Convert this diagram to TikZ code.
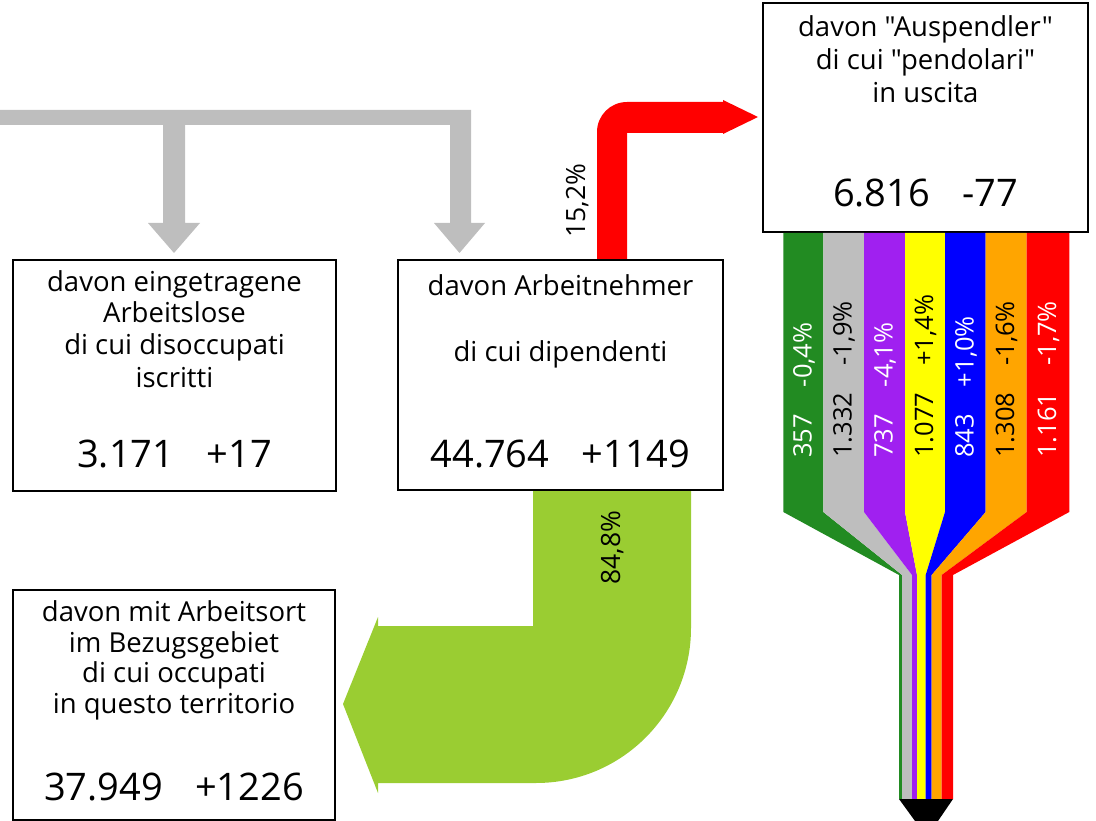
\documentclass[tikz,border=0pt]{standalone}
\usepackage{fontspec}
\setmainfont{Open Sans}[Ligatures=TeXOff]
\definecolor{cgreen}{HTML}{228B22}
\definecolor{cgrey}{HTML}{BEBEBE}
\definecolor{cpurple}{HTML}{A020F0}
\definecolor{cyellow}{HTML}{FFFF00}
\definecolor{cblue}{HTML}{0000FF}
\definecolor{corange}{HTML}{FFA500}
\definecolor{cred}{HTML}{FF0000}
\definecolor{clgreen}{HTML}{9ACD32}
\newcommand\bgap{\hspace{27pt}}
\begin{document}
\begin{tikzpicture}[x=1pt,y=-1pt,
  box/.style={draw=black,line width=2pt,fill=white,inner sep=0pt},
  txt/.style={font=\fontsize{27.5}{32}\selectfont,anchor=base,inner sep=0pt},
  num/.style={font=\fontsize{38}{44}\selectfont,anchor=base,inner sep=0pt},
  vlab/.style={font=\fontsize{26.5}{30}\selectfont,anchor=base west,rotate=90,inner sep=0pt},
  blab/.style={font=\fontsize{25.5}{30}\selectfont,anchor=base west,rotate=90,inner sep=0pt}]
\useasboundingbox (0,0) rectangle (1096,821);
% boxes
\draw[box] (13,260) rectangle (336,491);
\draw[box] (398,260) rectangle (723,490);
\draw[box] (13,590) rectangle (335,820);
\draw[box] (763,3) rectangle (1088,232);
% grey arrows
\fill[cgrey] (0,110) -- (471,110) -- (471,223) -- (485,223) -- (459.5,253) -- (434,223) -- (450,223) -- (450,125)
  -- (185,125) -- (185,223) -- (200,223) -- (174,253) -- (148,223) -- (163,223) -- (163,125) -- (0,125) -- cycle;
% red arrow
\fill[cred] (597,261) -- (597,132) .. controls (597,115.4) and (610.4,102) .. (627,102) -- (723,102) -- (723,100)
  -- (758,117) -- (723,134) -- (723,133) -- (627,133) -- (627,261) -- cycle;
% green arrow
\fill[clgreen] (691,491) -- (691,628) .. controls (691,713.6) and (621.6,783) .. (536,783) -- (378,783) -- (378,793)
  -- (343,704) -- (378,617) -- (378,626) -- (533,626) -- (533,491) -- cycle;
% redraw box borders over arrows
\draw[black,line width=2pt] (398,260) -- (723,260);
\draw[black,line width=2pt] (398,490) -- (723,490);
% bands
\fill[cgreen]  (783.3,233) -- (823.3,233) -- (823.3,512) -- (902,575) -- (902,799) -- (899,799) -- (899,575) -- (783.3,512) -- cycle;
\fill[cgrey]   (823.3,233) -- (864,233) -- (864,512) -- (912,575) -- (912,799) -- (902,799) -- (902,575) -- (823.3,512) -- cycle;
\fill[cpurple] (864,233) -- (905,233) -- (905,512) -- (917,575) -- (917,799) -- (912,799) -- (912,575) -- (864,512) -- cycle;
\fill[cyellow] (905,233) -- (945,233) -- (945,512) -- (925.7,575) -- (925.7,799) -- (917,799) -- (917,575) -- (905,512) -- cycle;
\fill[cblue]   (945,233) -- (985.7,233) -- (985.7,512) -- (931.7,575) -- (931.7,799) -- (925.7,799) -- (925.7,575) -- (945,512) -- cycle;
\fill[corange] (985.7,233) -- (1026.7,233) -- (1026.7,512) -- (941.7,575) -- (941.7,799) -- (931.7,799) -- (931.7,575) -- (985.7,512) -- cycle;
\fill[cred]    (1026.7,233) -- (1069.3,233) -- (1069.3,512) -- (953,575) -- (953,799) -- (941.7,799) -- (941.7,575) -- (1026.7,512) -- cycle;
\fill[black] (899,799) -- (953,799) -- (938,821) -- (915,821) -- cycle;
% box texts
\node[txt] (t1a) at (174.5,292) {davon eingetragene};
\node[txt] (t1b) at (174.5,323) {Arbeitslose};
\node[txt] (t1c) at (174.5,355) {di cui disoccupati};
\node[txt] (t1d) at (174.5,387) {iscritti};
\node[num] (n1) at (174.5,467) {3.171\hspace{0.85em}+17};
\node[txt] (t2a) at (560.5,296) {davon Arbeitnehmer};
\node[txt] (t2b) at (560.5,361) {di cui dipendenti};
\node[num] (n2) at (560.5,467) {44.764\hspace{0.85em}+1149};
\node[txt] (t3a) at (174,621) {davon mit Arbeitsort};
\node[txt] (t3b) at (174,652) {im Bezugsgebiet};
\node[txt] (t3c) at (174,682) {di cui occupati};
\node[txt] (t3d) at (174,713) {in questo territorio};
\node[num] (n3) at (174,800) {37.949\hspace{0.85em}+1226};
\node[txt] (t4a) at (925.5,37) {davon "Auspendler"};
\node[txt] (t4b) at (925.5,70) {di cui "pendolari"};
\node[txt] (t4c) at (925.5,103) {in uscita};
\node[num] (n4) at (925.5,207) {6.816\hspace{0.85em}-77};
% arrow labels
\node[vlab] (p1) at (585,238) {15,2\%};
\node[vlab] (p2) at (620,585) {84,8\%};
% band labels
\node[blab,white] (g1) at (811.5,458) {357\bgap-0,4\%};
\node[blab,black] (h1) at (851.5,458) {1.332\bgap-1,9\%};
\node[blab,white] (i1) at (892.5,458) {737\bgap-4,1\%};
\node[blab,black] (j1) at (933,458) {1.077\bgap+1,4\%};
\node[blab,white] (k1) at (973.5,458) {843\bgap+1,0\%};
\node[blab,black] (l1) at (1014,458) {1.308\bgap-1,6\%};
\node[blab,white] (m1) at (1056,458) {1.161\bgap-1,7\%};
\end{tikzpicture}
\end{document}
